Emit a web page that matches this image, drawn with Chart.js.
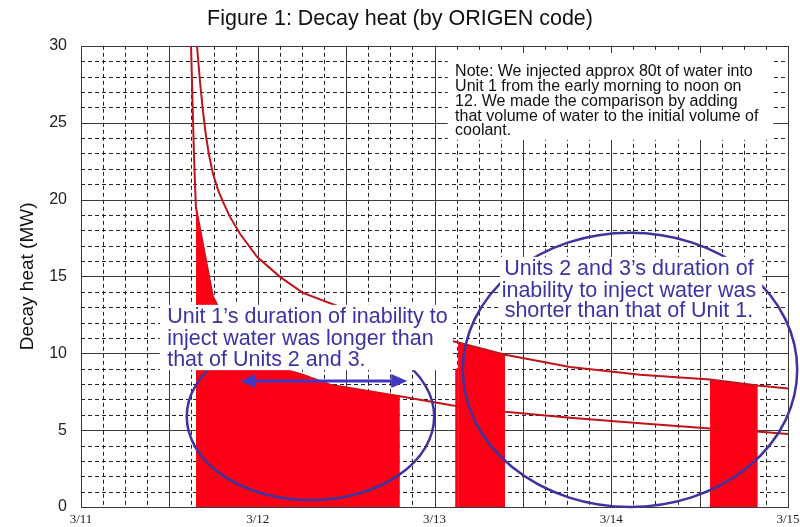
<!DOCTYPE html>
<html>
<head>
<meta charset="utf-8">
<script src="https://cdn.jsdelivr.net/npm/chart.js@4.4.0/dist/chart.umd.min.js"></script>
<style>
  html, body { margin: 0; padding: 0; background: #fff; }
</style>
</head>
<body>
<canvas id="decay-chart" width="800" height="527"></canvas>
<script>
// x values are hours after 3/11 00:00, y values are MW
const dateLabels = ['3/11', '3/12', '3/13', '3/14', '3/15'];

const unit1Hours = [14.94, 15.34, 15.6, 17.9, 20, 23, 28.0, 30.1, 33.8, 43.3, 50.5, 57.6, 66.4, 75.9, 85.4, 92.2, 96];
const unit1Heat  = [30, 22.9, 19.5, 13.7, 11.8, 10.2, 8.9, 8.6, 7.95, 7.2, 6.6, 6.2, 5.8, 5.45, 5.1, 4.9, 4.75];

const unit23Hours = [15.75, 16.16, 16.57, 16.97, 17.38, 17.92, 18.6, 19.28, 20.23, 21.59, 23.9, 27.02, 30.14, 35.17,
                     43, 51.2, 57.6, 66.4, 75.9, 85.4, 91.9, 96];
const unit23Heat  = [30, 27.66, 25.7, 24.14, 22.91, 21.67, 20.63, 19.85, 18.87, 17.77, 16.27, 14.97, 13.93, 13.01,
                     11.7, 10.7, 9.9, 9.1, 8.6, 8.3, 7.9, 7.7];

// periods with no water injection (hours)
const unit1Gap = [15.6, 43.3];
const unit3Gap = [51.2, 57.6];
const unit3Step = [50.8, 51.2, 9.0];
const unit2Gap = [85.4, 91.9];

const noteLines = [
    'Note: We injected approx 80t of water into',
    'Unit 1 from the early morning to noon on',
    '12. We made the comparison by adding',
    'that volume of water to the initial volume of',
    'coolant.'
];
const unit1Lines = [
    'Unit 1\u2019s duration of inability to',
    'inject water was longer than',
    'that of Units 2 and 3.'
];
const unit23Lines = [
    'Units 2 and 3\u2019s duration of',
    'inability to inject water was',
    'shorter than that of Unit 1.'
];

const sans = "'Liberation Sans', Arial, sans-serif";
const lineRed = '#c0141c';
const fillRed = 'rgb(252, 0, 22)';
const blue = '#3b34a4';

function toPoints(hours, heat) {
    return hours.map((h, i) => ({x: h, y: heat[i]}));
}

function gapFill(hours, heat, gap) {
    const pts = toPoints(hours, heat).filter(p => p.x >= gap[0] && p.x <= gap[1]);
    return [{x: gap[0], y: 0}, ...pts, {x: gap[1], y: 0}];
}

function fillSet(data) {
    return {
        data: data,
        borderWidth: 0,
        backgroundColor: fillRed,
        fill: 'origin',
        pointRadius: 0,
        tension: 0,
        order: 1
    };
}

const gridLines = {
    id: 'gridLines',
    beforeDatasetsDraw(chart) {
        const {ctx, chartArea: a, scales: {x, y}} = chart;
        const px = v => Math.round(x.getPixelForValue(v)) + 0.5;
        const py = v => Math.round(y.getPixelForValue(v)) + 0.5;
        ctx.save();
        ctx.lineWidth = 1;
        ctx.strokeStyle = '#222';
        ctx.setLineDash([4, 3]);
        ctx.beginPath();
        for (let h = 3; h < 96; h += 3) {
            if (h % 12 === 0) continue;
            ctx.moveTo(px(h), a.top);
            ctx.lineTo(px(h), a.bottom);
        }
        for (let m = 1; m < 30; m++) {
            if (m % 5 === 0) continue;
            ctx.moveTo(a.left, py(m));
            ctx.lineTo(a.right, py(m));
        }
        ctx.stroke();
        ctx.setLineDash([]);
        ctx.strokeStyle = '#3a3a3a';
        ctx.beginPath();
        for (let h = 12; h < 96; h += 12) {
            ctx.moveTo(px(h), a.top);
            ctx.lineTo(px(h), a.bottom);
        }
        for (let m = 5; m < 30; m += 5) {
            ctx.moveTo(a.left, py(m));
            ctx.lineTo(a.right, py(m));
        }
        ctx.stroke();
        ctx.strokeRect(px(0), py(30), px(96) - px(0), py(0) - py(30));
        ctx.restore();
    }
};

const notes = {
    id: 'notes',
    afterDatasetsDraw(chart) {
        const {ctx, scales: {x, y}} = chart;
        const px = v => x.getPixelForValue(v);
        const py = v => y.getPixelForValue(v);
        ctx.save();

        // ellipses
        ctx.strokeStyle = '#3d34a0';
        ctx.lineWidth = 2.5;
        ctx.beginPath();
        ctx.ellipse(px(31.16), py(5.88), px(31.16 + 16.8) - px(31.16), py(0) - py(5.43), 0, 0, Math.PI * 2);
        ctx.stroke();
        ctx.beginPath();
        ctx.ellipse(px(74.55), py(8.92), px(74.55 + 22.7) - px(74.55), py(0) - py(8.92), 0, 0, Math.PI * 2);
        ctx.stroke();

        // double arrow
        const ax0 = px(21.6), ax1 = px(44.3), ay = py(8.2);
        ctx.strokeStyle = '#4038c0';
        ctx.fillStyle = '#4038c0';
        ctx.lineWidth = 3;
        ctx.beginPath();
        ctx.moveTo(ax0 + 10, ay);
        ctx.lineTo(ax1 - 10, ay);
        ctx.stroke();
        ctx.beginPath();
        ctx.moveTo(ax0, ay);
        ctx.lineTo(ax0 + 16, ay - 7);
        ctx.lineTo(ax0 + 16, ay + 7);
        ctx.closePath();
        ctx.moveTo(ax1, ay);
        ctx.lineTo(ax1 - 16, ay - 7);
        ctx.lineTo(ax1 - 16, ay + 7);
        ctx.closePath();
        ctx.fill();

        // white label boxes
        ctx.fillStyle = '#fff';
        ctx.fillRect(px(10.7), py(13.15), px(50.5) - px(10.7), py(8.9) - py(13.15));
        ctx.fillRect(px(56.9), py(16.27), px(92.5) - px(56.9), py(12.04) - py(16.27));
        ctx.fillRect(px(49.8), py(29.54), px(94.0) - px(49.8), py(23.88) - py(29.54));

        ctx.fillStyle = blue;
        ctx.font = '21.5px ' + sans;
        ctx.textBaseline = 'alphabetic';
        ctx.textAlign = 'left';
        const u1y = [11.97, 10.54, 9.18];
        unit1Lines.forEach((t, i) => ctx.fillText(t, px(11.7), py(u1y[i])));
        ctx.textAlign = 'center';
        const u23y = [15.1, 13.67, 12.36];
        unit23Lines.forEach((t, i) => ctx.fillText(t, px(74.4), py(u23y[i])));

        ctx.fillStyle = '#111';
        ctx.font = '16px ' + sans;
        ctx.textAlign = 'left';
        const ny = [28.05, 27.08, 26.1, 25.12, 24.2];
        noteLines.forEach((t, i) => ctx.fillText(t, px(50.8), py(ny[i])));
        ctx.restore();
    }
};

const decayChartField = document.getElementById('decay-chart');
const decayChart = new Chart(decayChartField, {
        type: 'line',
        data: {
            datasets: [
                {
                    data: toPoints(unit23Hours, unit23Heat),
                    borderColor: lineRed,
                    borderWidth: 2,
                    pointRadius: 0,
                    tension: 0,
                    fill: false,
                    order: 0
                },
                fillSet(gapFill(unit1Hours, unit1Heat, unit1Gap)),
                fillSet([{x: unit3Step[0], y: 0}, {x: unit3Step[0], y: unit3Step[2]},
                         {x: unit3Step[1], y: unit3Step[2]}, {x: unit3Step[1], y: 0}]),
                fillSet(gapFill(unit23Hours, unit23Heat, unit3Gap)),
                fillSet(gapFill(unit23Hours, unit23Heat, unit2Gap)),
                {
                    data: toPoints(unit1Hours, unit1Heat),
                    borderColor: lineRed,
                    borderWidth: 2,
                    pointRadius: 0,
                    tension: 0,
                    fill: false,
                    order: 2
                }
            ]
        },
        options: {
            responsive: false,
            animation: false,
            devicePixelRatio: 1,
            layout: {padding: 0},
            plugins: {
                legend: {display: false},
                tooltip: {enabled: false},
                title: {
                    display: true,
                    text: 'Figure 1: Decay heat (by ORIGEN code)',
                    color: '#111',
                    font: {family: sans, size: 21.5, weight: 'normal'},
                    padding: {top: 6, bottom: 14}
                }
            },
            scales: {
                x: {
                    type: 'linear',
                    min: 0,
                    max: 96,
                    grid: {display: false, drawTicks: false},
                    border: {display: false},
                    ticks: {
                        stepSize: 24,
                        padding: 5,
                        maxRotation: 0,
                        color: '#222',
                        font: {family: "'Liberation Serif', 'Times New Roman', serif", size: 13},
                        callback: v => dateLabels[v / 24]
                    },
                    afterFit(scale) {
                        scale.height = 20;
                        scale.paddingRight = 12;
                    }
                },
                y: {
                    min: 0,
                    max: 30,
                    grid: {display: false, drawTicks: false},
                    border: {display: false},
                    ticks: {
                        stepSize: 5,
                        padding: 14,
                        color: '#222',
                        font: {family: sans, size: 16}
                    },
                    title: {
                        display: true,
                        text: 'Decay heat (MW)',
                        color: '#111',
                        font: {family: sans, size: 19},
                        padding: {top: 16, bottom: 0}
                    },
                    afterFit(scale) {
                        scale.width = 81;
                        scale.paddingTop = 0;
                        scale.paddingBottom = 0;
                    }
                }
            }
        },
        plugins: [gridLines, notes]
    }
);
</script>
</body>
</html>
